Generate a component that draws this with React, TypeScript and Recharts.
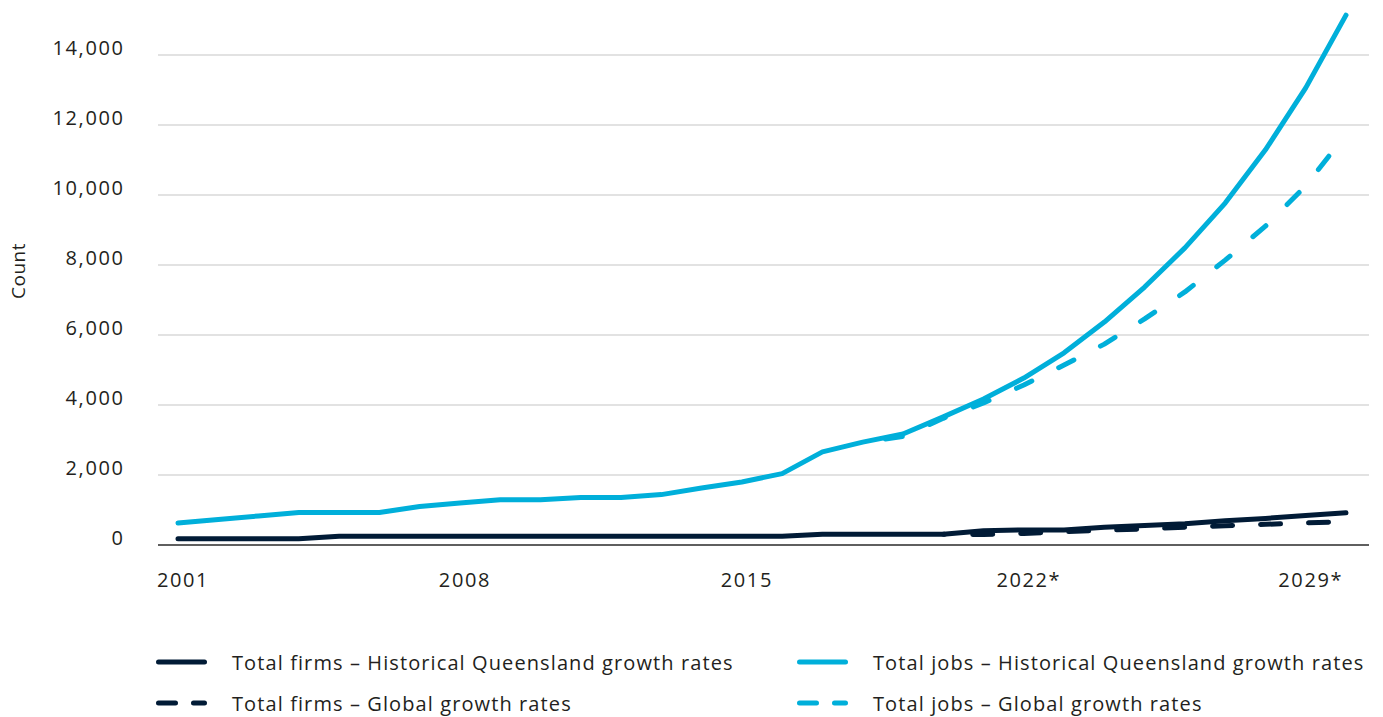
import React from 'react';
import { LineChart, Line, XAxis, YAxis, CartesianGrid, Label } from 'recharts';

// years on the x axis; 2022 onwards are projections (marked with *)
const years = [
  2001, 2002, 2003, 2004, 2005, 2006, 2007, 2008, 2009, 2010,
  2011, 2012, 2013, 2014, 2015, 2016, 2017, 2018, 2019, 2020,
  2021, 2022, 2023, 2024, 2025, 2026, 2027, 2028, 2029, 2030,
];
const projectedFrom = 2022;
const xTicks = [2001, 2008, 2015, 2022, 2029];
const yTicks = [0, 2000, 4000, 6000, 8000, 10000, 12000, 14000];

const firmsHistorical = [
  180, 180, 180, 180, 250, 250, 250, 250, 250, 250,
  250, 250, 250, 250, 250, 250, 310, 310, 310, 310,
  410, 430, 430, 510, 560, 610, 690, 760, 840, 920,
];
const jobsHistorical = [
  630, 730, 830, 930, 930, 930, 1100, 1200, 1290, 1290,
  1360, 1360, 1440, 1630, 1800, 2040, 2660, 2940, 3170, 3660,
  4170, 4770, 5490, 6370, 7370, 8490, 9770, 11290, 13060, 15140,
];
// global growth scenarios only start near the end of the historical period
const firmsGlobalStart = 2020;
const firmsGlobal = [310, 300, 330, 380, 420, 460, 510, 550, 590, 630, 670];
const jobsGlobalStart = 2018;
const jobsGlobal = [2940, 3100, 3620, 4060, 4570, 5140, 5740, 6460, 7230, 8140, 9110, 10260, 11740];

const seriesNames = {
  firmsHist: 'Total firms – Historical Queensland growth rates',
  firmsGlobal: 'Total firms – Global growth rates',
  jobsHist: 'Total jobs – Historical Queensland growth rates',
  jobsGlobal: 'Total jobs – Global growth rates',
};

const NAVY = '#011b36';
const CYAN = '#00afda';
const TEXT = '#231f20';
const FONT = '"Open Sans", sans-serif';

const data = years.map((year, i) => ({
  year,
  firmsHist: firmsHistorical[i],
  jobsHist: jobsHistorical[i],
  firmsGlobal: year >= firmsGlobalStart ? firmsGlobal[year - firmsGlobalStart] : null,
  jobsGlobal: year >= jobsGlobalStart ? jobsGlobal[year - jobsGlobalStart] : null,
}));

const YTick = ({ x, y, payload }: any) => (
  <text x={x + 1.5} y={y} textAnchor="end" fill={TEXT} fontSize={20} fontFamily={FONT} letterSpacing={1.6}>
    {Number(payload.value).toLocaleString('en-US')}
  </text>
);

const XTick = ({ x, y, payload }: any) => (
  <text x={x + 5} y={y} textAnchor="middle" fill={TEXT} fontSize={20} fontFamily={FONT} letterSpacing={1.6}>
    {payload.value >= projectedFrom ? `${payload.value}*` : payload.value}
  </text>
);

const legendItems = [
  { key: 'firmsHist', color: NAVY, dashed: false, left: 156, top: 662 },
  { key: 'firmsGlobal', color: NAVY, dashed: true, left: 156, top: 703 },
  { key: 'jobsHist', color: CYAN, dashed: false, left: 797, top: 662 },
  { key: 'jobsGlobal', color: CYAN, dashed: true, left: 797, top: 703 },
];

function ChartLegend() {
  return (
    <>
      {legendItems.map((item) => (
        <div
          key={item.key}
          style={{
            position: 'absolute',
            left: item.left,
            top: item.top - 15,
            height: 30,
            display: 'flex',
            alignItems: 'center',
            fontFamily: FONT,
            fontSize: 20,
            letterSpacing: 1.1,
            color: TEXT,
            whiteSpace: 'nowrap',
          }}
        >
          <svg width={52} height={10} style={{ marginRight: 24 }}>
            <line
              x1={2.5}
              x2={48.5}
              y1={5}
              y2={5}
              stroke={item.color}
              strokeWidth={5}
              strokeLinecap="round"
              strokeDasharray={item.dashed ? '17 18' : undefined}
            />
          </svg>
          <span>{seriesNames[item.key as keyof typeof seriesNames]}</span>
        </div>
      ))}
    </>
  );
}

export default function App() {
  return (
    <div style={{ position: 'absolute', left: 0, top: 0, width: 1383, height: 717, background: '#fff' }}>
      <LineChart width={1383} height={620} data={data} margin={{ top: 13, right: 14, bottom: 15, left: 0 }}>
        <CartesianGrid vertical={false} horizontalValues={yTicks} stroke="#c6c6c6" strokeWidth={1.2} />
        <XAxis
          dataKey="year"
          type="number"
          domain={[2001, 2030]}
          ticks={xTicks}
          padding={{ left: 20, right: 23 }}
          height={60}
          tickLine={false}
          tickSize={0}
          tickMargin={42}
          axisLine={{ stroke: '#333333', strokeWidth: 1.5 }}
          tick={<XTick />}
        />
        <YAxis
          type="number"
          domain={[0, 15200]}
          ticks={yTicks}
          width={158}
          axisLine={false}
          tickLine={false}
          tickSize={0}
          tickMargin={35}
          tick={<YTick />}
        >
          <Label
            content={() => (
              <text
                x={18}
                y={271}
                transform="rotate(-90 18 271)"
                textAnchor="middle"
                dominantBaseline="central"
                fill={TEXT}
                fontSize={19}
                fontFamily={FONT}
                letterSpacing={0.5}
              >
                Count
              </text>
            )}
          />
        </YAxis>
        <Line
          dataKey="firmsHist"
          name={seriesNames.firmsHist}
          stroke={NAVY}
          strokeWidth={5}
          strokeLinecap="round"
          strokeLinejoin="round"
          dot={false}
          activeDot={false}
          isAnimationActive={false}
        />
        <Line
          dataKey="firmsGlobal"
          name={seriesNames.firmsGlobal}
          stroke={NAVY}
          strokeWidth={5}
          strokeLinecap="round"
          strokeLinejoin="round"
          strokeDasharray="20 28"
          strokeDashoffset={18.5}
          dot={false}
          activeDot={false}
          isAnimationActive={false}
        />
        <Line
          dataKey="jobsHist"
          name={seriesNames.jobsHist}
          stroke={CYAN}
          strokeWidth={5}
          strokeLinecap="round"
          strokeLinejoin="round"
          dot={false}
          activeDot={false}
          isAnimationActive={false}
        />
        <Line
          dataKey="jobsGlobal"
          name={seriesNames.jobsGlobal}
          stroke={CYAN}
          strokeWidth={5}
          strokeLinecap="round"
          strokeLinejoin="round"
          strokeDasharray="17 30"
          strokeDashoffset={24}
          dot={false}
          activeDot={false}
          isAnimationActive={false}
        />
      </LineChart>
      <ChartLegend />
    </div>
  );
}
